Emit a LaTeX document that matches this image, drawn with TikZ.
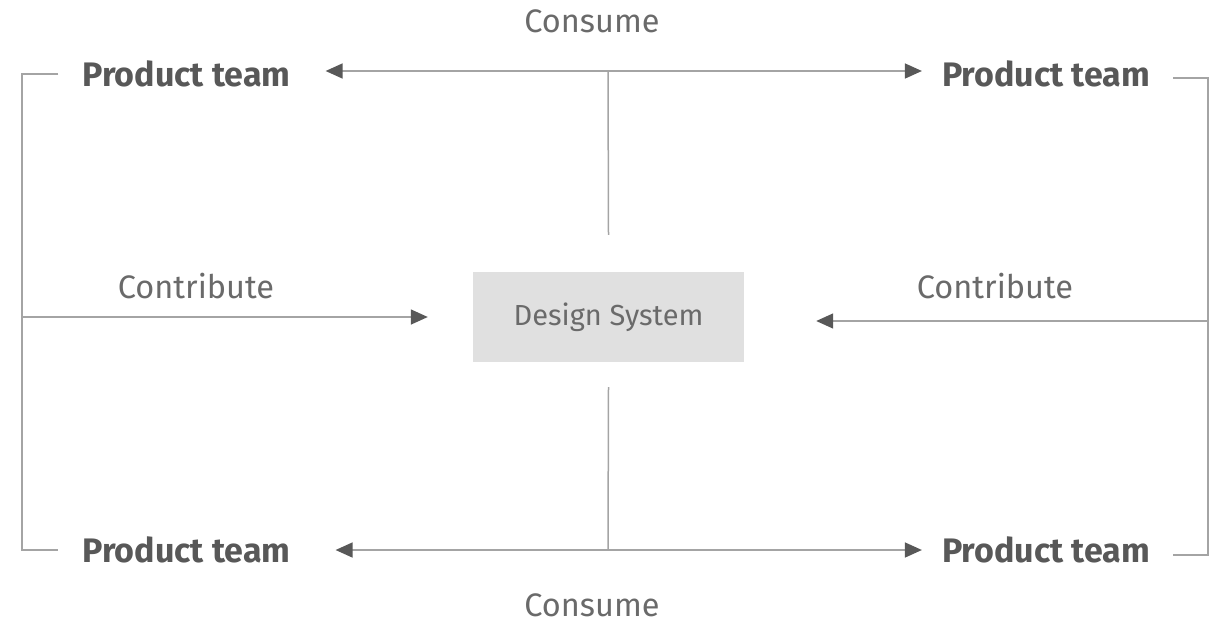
\documentclass[tikz,border=0pt]{standalone}
\usepackage{fontspec}
\setmainfont{Fira Sans}
\usetikzlibrary{arrows.meta}
\usetikzlibrary{positioning}
\definecolor{linegray}{HTML}{A4A4A4}
\definecolor{tipgray}{HTML}{585858}
\definecolor{teamgray}{HTML}{585858}
\definecolor{labelgray}{HTML}{6A6A6A}
\definecolor{boxgray}{HTML}{E0E0E0}
\tikzstyle{team} = [inner sep=0pt, text=teamgray, font=\fontsize{34}{40}\selectfont\bfseries]
\tikzstyle{caption} = [inner sep=0pt, text=labelgray, font=\fontsize{32.5}{38}\selectfont]
\tikzstyle{system} = [rectangle, inner sep=0pt, minimum width=271pt, minimum height=90pt, fill=boxgray, text=labelgray, font=\fontsize{29}{34}\selectfont]
\tikzstyle{line} = [draw=linegray, line width=1.5pt]
\tikzstyle{arrow} = [line, -{Triangle[length=17pt,width=15pt,color=tipgray,fill=tipgray]}]

\begin{document}
\begin{tikzpicture}[x=1pt, y=-1pt]
  \useasboundingbox (0,0) rectangle (1215,621);

  % We start by placing the nodes
  \node (consumetop) [caption] at (592,21.5) {Consume};
  \node (ptl) [team] at (186.5,74) {Product team};
  \node (ptr) [team] at (1046,74) {Product team};
  \node (design) [system] at (608.5,317) {Design System};
  \node (contribl) [caption] at (196,286) {Contribute};
  \node (contribr) [caption] at (995,286) {Contribute};
  \node (pbl) [team] at (186.5,550) {Product team};
  \node (pbr) [team] at (1046,550) {Product team};
  \node (consumebot) [caption] at (592,605) {Consume};

  % hubs and sides
  \coordinate (hubtop) at (608,71);
  \coordinate (hubbot) at (608,550);
  \coordinate (lside) at (22,317);
  \coordinate (rside) at (1208,321);

  % draw connections between nodes
  \draw [arrow] (hubtop) -- ([xshift=35pt]hubtop -| ptl.east);
  \draw [arrow] (hubtop) -- ([xshift=-20pt]hubtop -| ptr.west);
  \draw [line] (hubtop) -- ([yshift=37pt]design.north);
  \draw [arrow] (hubbot) -- ([xshift=45pt]hubbot -| pbl.east);
  \draw [arrow] (hubbot) -- ([xshift=-20pt]hubbot -| pbr.west);
  \draw [line] (hubbot) -- ([yshift=-25pt]design.south);
  \draw [arrow] (lside) -- ([xshift=-45pt]design.west);
  \draw [arrow] (rside) -- ([xshift=72pt]rside -| design.east);
  \draw [line] ([xshift=-24pt]ptl.west) -| (lside) |- ([xshift=-24pt]pbl.west);
  \draw [line] ([xshift=23pt,yshift=-4pt]ptr.east) -| (rside) |- ([xshift=23pt,yshift=-5pt]pbr.east);

\end{tikzpicture}
\end{document}
